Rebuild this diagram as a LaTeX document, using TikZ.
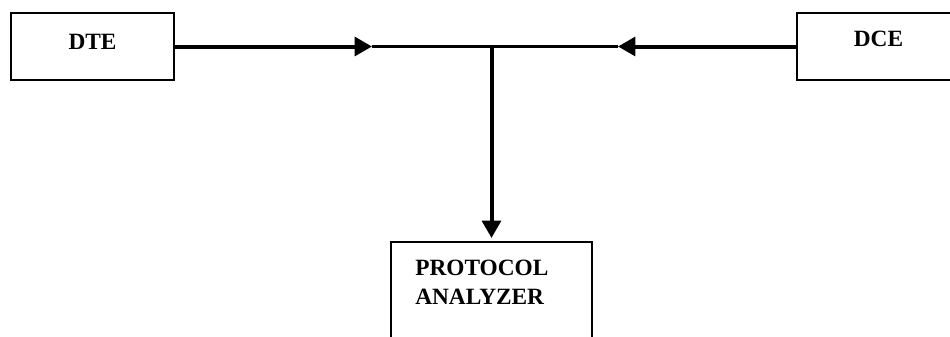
\documentclass[tikz,border=0pt]{standalone}
\usepackage{fontspec}
\setmainfont{Liberation Serif}
\usetikzlibrary{arrows.meta}
\usetikzlibrary{positioning}
\usetikzlibrary{scopes}

\tikzset{
    unitbox/.style={draw,line width=1.3pt,minimum width=122.25pt,minimum height=50.25pt,
        inner sep=0pt,font=\fontsize{17.5}{21.75}\selectfont\bfseries,text height=12pt},
    busarrow/.style={line width=3pt,-{Triangle[length=13pt,width=14pt]}}
}

\begin{document}
\begin{tikzpicture}[x=0.75pt,y=-0.75pt]
    \useasboundingbox (0,0) rectangle (950,336);
    \clip (0,0) rectangle (950,336);

    \node[unitbox,text depth=7.8pt] (dte) at (92.5,46.5) {DTE};
    \node[unitbox,text depth=12pt] (dce) at (878.5,46.5) {DCE};
    \node[unitbox,minimum width=150.75pt,minimum height=90pt,anchor=north] (pa) at (491.5,241) {};
    \node[anchor=north west,align=left,inner sep=0pt,font=\fontsize{17.5}{21.75}\selectfont\bfseries]
        (patext) at (415,260) {PROTOCOL\\ANALYZER};

    \coordinate (jl) at (372,46.5);
    \coordinate (tee) at (491.5,46.5);
    \coordinate (jr) at (618,46.5);

    { [busarrow]
        \draw (dte.east) -- (jl);
        \draw (dce.west) -- (jr);
        \draw[shorten >=2.25pt] (tee) -- (pa.north);
    }
    \draw[line width=1.9pt] (jl) -- (jr);
\end{tikzpicture}
\end{document}
